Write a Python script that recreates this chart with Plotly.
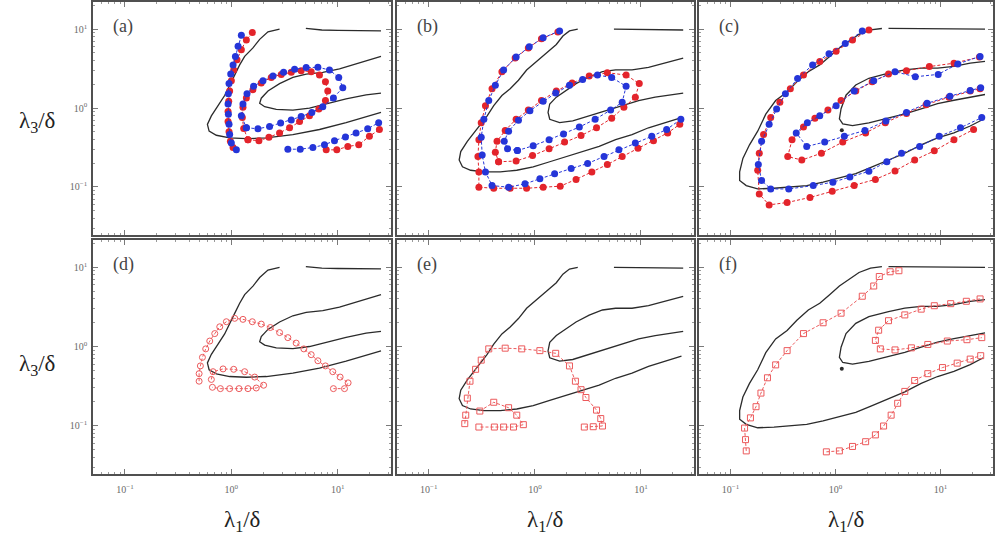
import numpy as np
import plotly.graph_objects as go
from plotly.subplots import make_subplots

# All coordinates are log10(lambda1/delta) and log10(lambda3/delta).

# ---- black reference contours, shared by each column (a/d, b/e, c/f) ----
c1_outer_l1 = [0.453, 0.344, 0.266, 0.203, 0.125, 0.078, 0.031, -0.016, -0.063, -0.125, -0.188, -0.225, -0.209,
               -0.141, -0.016, 0.141, 0.328, 0.578, 0.828, 1.078, 1.266, 1.406]
c1_outer_l3 = [1.0, 0.966, 0.871, 0.763, 0.655, 0.547, 0.418, 0.289, 0.159, 0.030, -0.099, -0.207, -0.293,
               -0.345, -0.379, -0.388, -0.379, -0.336, -0.272, -0.185, -0.112, -0.056]
c1_top_l1 = [0.70, 0.85, 1.0, 1.2, 1.406]
c1_top_l3 = [1.01, 0.99, 0.985, 0.98, 0.98]
c1_inner_l1 = [1.406, 1.203, 1.016, 0.859, 0.703, 0.578, 0.453, 0.344, 0.281, 0.266, 0.313, 0.422, 0.578, 0.734,
               0.891, 1.078, 1.266, 1.406]
c1_inner_l3 = [0.655, 0.569, 0.496, 0.453, 0.431, 0.388, 0.310, 0.216, 0.125, 0.060, 0.017, -0.017, -0.026, 0.0,
               0.052, 0.116, 0.168, 0.190]

c2_outer_l1 = [0.404, 0.326, 0.264, 0.202, 0.109, 0.016, -0.078, -0.155, -0.233, -0.311, -0.388, -0.450, -0.512,
               -0.575, -0.637, -0.699, -0.714, -0.683, -0.606, -0.481, -0.326, -0.171, -0.016, 0.140, 0.295, 0.450,
               0.606, 0.761, 0.916, 1.071, 1.227, 1.382]
c2_outer_l3 = [1.0, 0.978, 0.914, 0.806, 0.698, 0.590, 0.483, 0.353, 0.246, 0.159, 0.030, -0.099, -0.207, -0.315,
               -0.422, -0.552, -0.659, -0.746, -0.789, -0.810, -0.810, -0.789, -0.746, -0.681, -0.616, -0.552,
               -0.487, -0.401, -0.336, -0.250, -0.185, -0.121]
c2_top_l1 = [0.745, 0.95, 1.15, 1.398]
c2_top_l3 = [1.0, 0.995, 0.99, 0.99]
c2_inner_l1 = [1.398, 1.227, 1.071, 0.916, 0.761, 0.637, 0.512, 0.388, 0.295, 0.202, 0.140, 0.124, 0.140, 0.233,
               0.357, 0.512, 0.668, 0.823, 0.978, 1.134, 1.289, 1.398]
c2_inner_l3 = [0.634, 0.569, 0.517, 0.483, 0.483, 0.461, 0.397, 0.310, 0.224, 0.138, 0.052, -0.056, -0.142, -0.185,
               -0.164, -0.099, -0.034, 0.030, 0.095, 0.138, 0.172, 0.190]

c3_outer_l1 = [0.442, 0.333, 0.224, 0.131, 0.037, -0.056, -0.150, -0.259, -0.368, -0.461, -0.570, -0.664, -0.741,
               -0.819, -0.882, -0.913, -0.913, -0.850, -0.741, -0.586, -0.430, -0.274, -0.118, 0.037, 0.193, 0.349,
               0.505, 0.660, 0.816, 0.972, 1.128, 1.283, 1.408]
c3_outer_l3 = [1.009, 0.991, 0.935, 0.849, 0.763, 0.655, 0.547, 0.461, 0.332, 0.203, 0.095, -0.078, -0.293, -0.466,
               -0.638, -0.810, -0.918, -0.983, -1.026, -1.017, -1.004, -0.983, -0.940, -0.888, -0.832, -0.746,
               -0.659, -0.573, -0.466, -0.379, -0.315, -0.228, -0.142]
c3_top_l1 = [0.505, 0.75, 1.0, 1.25, 1.424]
c3_top_l3 = [1.01, 1.005, 1.0, 1.0, 1.0]
c3_inner_l1 = [1.424, 1.283, 1.128, 0.972, 0.816, 0.660, 0.505, 0.318, 0.193, 0.100, 0.053, 0.037, 0.069, 0.162,
               0.318, 0.505, 0.660, 0.816, 0.972, 1.128, 1.283, 1.424]
c3_inner_l3 = [0.592, 0.571, 0.528, 0.506, 0.506, 0.485, 0.442, 0.378, 0.292, 0.163, -0.009, -0.137, -0.202, -0.223,
               -0.189, -0.129, -0.073, -0.009, 0.056, 0.099, 0.142, 0.172]
c3_dot_l1 = [0.06]
c3_dot_l3 = [-0.28]

# ---- panel (a) ----
a_red1_l1 = [0.197, 0.141, 0.094, 0.053, 0.022, 0.0, -0.016, -0.025, -0.031, -0.031, -0.022, -0.009, 0.016]
a_red1_l3 = [0.957, 0.862, 0.741, 0.612, 0.483, 0.345, 0.216, 0.086, -0.043, -0.172, -0.302, -0.422, -0.5]
a_blue1_l1 = [0.094, 0.063, 0.038, 0.016, -0.006, -0.022, -0.028, -0.031, -0.028, -0.022, -0.016, 0.0, 0.047]
a_blue1_l3 = [0.922, 0.784, 0.655, 0.547, 0.431, 0.310, 0.181, 0.052, -0.078, -0.207, -0.336, -0.444, -0.530]
a_red2_l1 = [0.156, 0.259, 0.353, 0.453, 0.547, 0.641, 0.734, 0.822, 0.884, 0.906, 0.884, 0.828, 0.750, 0.656,
             0.563, 0.469, 0.375, 0.281, 0.203, 0.141, 0.109, 0.103, 0.116, 0.156]
a_red2_l3 = [-0.401, -0.414, -0.371, -0.315, -0.250, -0.172, -0.099, -0.013, 0.095, 0.216, 0.332, 0.418, 0.461,
             0.474, 0.453, 0.427, 0.388, 0.319, 0.233, 0.129, 0.009, -0.121, -0.259, -0.401]
a_blue2_l1 = [0.141, 0.250, 0.359, 0.463, 0.563, 0.656, 0.756, 0.859, 0.959, 1.047, 1.009, 0.922, 0.813, 0.703,
              0.594, 0.491, 0.391, 0.297, 0.209, 0.147, 0.109, 0.094, 0.141]
a_blue2_l3 = [-0.250, -0.263, -0.233, -0.190, -0.151, -0.108, -0.056, 0.017, 0.129, 0.259, 0.388, 0.483, 0.517,
              0.513, 0.491, 0.453, 0.405, 0.345, 0.276, 0.181, 0.052, -0.099, -0.250]
a_red3_l1 = [0.891, 0.991, 1.094, 1.197, 1.297, 1.391]
a_red3_l3 = [-0.530, -0.530, -0.487, -0.466, -0.358, -0.272]
a_blue3_l1 = [0.531, 0.647, 0.766, 0.875, 0.969, 1.072, 1.172, 1.281, 1.384]
a_blue3_l3 = [-0.522, -0.522, -0.500, -0.466, -0.414, -0.366, -0.315, -0.263, -0.185]

# ---- panel (b) ----
b_red1_l1 = [0.217, 0.062, -0.062, -0.186, -0.311, -0.404, -0.466, -0.506, -0.528, -0.537, -0.528, -0.528, -0.388,
             -0.233, -0.078, 0.078, 0.239, 0.388, 0.537, 0.683, 0.823, 0.972, 1.118, 1.252, 1.366]
b_red1_l3 = [0.966, 0.879, 0.763, 0.634, 0.461, 0.246, 0.030, -0.185, -0.401, -0.616, -0.810, -1.004, -1.017,
             -1.017, -1.017, -1.004, -0.991, -0.905, -0.810, -0.716, -0.616, -0.509, -0.414, -0.315, -0.207]
b_blue1_l1 = [0.233, 0.078, -0.053, -0.177, -0.295, -0.373, -0.435, -0.481, -0.506, -0.497, -0.466, -0.404, -0.248,
              -0.093, 0.047, 0.186, 0.342, 0.497, 0.652, 0.792, 0.947, 1.102, 1.242, 1.376]
b_blue1_l3 = [0.978, 0.892, 0.776, 0.647, 0.483, 0.289, 0.095, -0.142, -0.371, -0.595, -0.810, -0.983, -1.004,
              -0.961, -0.897, -0.832, -0.767, -0.703, -0.616, -0.530, -0.444, -0.358, -0.272, -0.142]
b_red2_l1 = [-0.342, -0.177, -0.022, 0.134, 0.280, 0.435, 0.581, 0.724, 0.839, 0.947, 0.984, 0.860, 0.683, 0.512,
             0.351, 0.202, 0.062, -0.062, -0.177, -0.280, -0.357, -0.373, -0.342]
b_red2_l3 = [-0.681, -0.672, -0.603, -0.517, -0.431, -0.349, -0.250, -0.129, 0.009, 0.138, 0.310, 0.418, 0.448,
             0.405, 0.319, 0.216, 0.095, -0.026, -0.142, -0.284, -0.422, -0.560, -0.681]
b_blue2_l1 = [-0.165, -0.016, 0.134, 0.270, 0.419, 0.568, 0.714, 0.823, 0.860, 0.724, 0.590, 0.450, 0.326, 0.196,
              0.078, -0.047, -0.155, -0.248, -0.289, -0.258, -0.165]
b_blue2_l3 = [-0.539, -0.478, -0.401, -0.328, -0.241, -0.142, -0.026, 0.073, 0.276, 0.388, 0.418, 0.362, 0.289,
              0.190, 0.086, -0.034, -0.155, -0.293, -0.422, -0.517, -0.539]

# ---- panel (c) ----
c_red1_l1 = [0.318, 0.162, 0.006, -0.150, -0.305, -0.430, -0.530, -0.617, -0.685, -0.726, -0.741, -0.726, -0.632,
             -0.461, -0.243, -0.031, 0.178, 0.380, 0.567, 0.754, 0.941, 1.128, 1.315]
c_red1_l3 = [0.991, 0.862, 0.720, 0.591, 0.418, 0.246, 0.073, -0.121, -0.336, -0.573, -0.789, -1.091, -1.228,
             -1.198, -1.134, -1.056, -0.983, -0.905, -0.797, -0.659, -0.543, -0.401, -0.272]
c_blue1_l1 = [0.255, 0.093, -0.062, -0.218, -0.361, -0.477, -0.561, -0.632, -0.704, -0.735, -0.704, -0.617, -0.445,
              -0.212, -0.025, 0.137, 0.318, 0.489, 0.629, 0.801, 0.988, 1.190, 1.393]
c_blue1_l3 = [0.978, 0.819, 0.690, 0.547, 0.375, 0.181, -0.013, -0.207, -0.422, -0.716, -0.918, -1.026, -1.026,
              -0.983, -0.940, -0.875, -0.802, -0.681, -0.573, -0.487, -0.358, -0.250, -0.121]
c_red2_l1 = [1.371, 1.128, 0.894, 0.676, 0.505, 0.349, 0.193, 0.053, -0.072, -0.196, -0.305, -0.414, -0.455, -0.321,
             -0.134, 0.069, 0.287, 0.474, 0.676, 0.863, 1.081, 1.283, 1.377]
c_red2_l3 = [0.647, 0.569, 0.526, 0.474, 0.431, 0.332, 0.216, 0.095, -0.026, -0.129, -0.241, -0.401, -0.616, -0.659,
             -0.573, -0.431, -0.315, -0.185, -0.069, 0.043, 0.138, 0.216, 0.246]
c_blue2_l1 = [1.377, 1.165, 0.978, 0.760, 0.567, 0.364, 0.178, 0.006, -0.150, -0.268, -0.374, -0.274, -0.103, 0.084,
              0.280, 0.480, 0.676, 0.872, 1.090, 1.283, 1.383]
c_blue2_l3 = [0.655, 0.560, 0.427, 0.397, 0.461, 0.345, 0.216, 0.030, -0.099, -0.185, -0.315, -0.487, -0.431,
              -0.358, -0.284, -0.164, -0.056, 0.060, 0.151, 0.224, 0.259]

# ---- panel (d) ----
d_1_l1 = [-0.303, -0.303, -0.291, -0.272, -0.241, -0.203, -0.156, -0.109, -0.047, 0.031, 0.109, 0.197, 0.281, 0.366,
          0.453, 0.531, 0.609, 0.681, 0.750, 0.813, 0.884, 0.953, 1.022, 1.097, 1.063, 0.959]
d_1_l3 = [-0.438, -0.343, -0.245, -0.137, -0.030, 0.069, 0.163, 0.249, 0.313, 0.356, 0.343, 0.313, 0.283, 0.240,
          0.176, 0.112, 0.043, -0.030, -0.103, -0.180, -0.245, -0.318, -0.386, -0.459, -0.532, -0.532]
d_2_l1 = [-0.188, -0.172, -0.078, 0.022, 0.125, 0.219, 0.303, 0.234, 0.156, 0.072, -0.016, -0.103, -0.178]
d_2_l3 = [-0.416, -0.318, -0.283, -0.288, -0.318, -0.386, -0.489, -0.524, -0.532, -0.532, -0.532, -0.532, -0.515]

# ---- panel (e) ----
e_1_l1 = [-0.661, -0.652, -0.637, -0.612, -0.559, -0.506, -0.435, -0.280, -0.124, 0.047, 0.196, 0.326, 0.382, 0.435,
          0.481, 0.581, 0.621, 0.637, 0.550, 0.466]
e_1_l3 = [-0.974, -0.867, -0.652, -0.438, -0.288, -0.172, -0.030, -0.021, -0.030, -0.052, -0.086, -0.245, -0.438,
          -0.545, -0.644, -0.803, -0.910, -1.004, -1.013, -1.017]
e_2_l1 = [-0.519, -0.388, -0.248, -0.171, -0.109, -0.202, -0.295, -0.382, -0.528]
e_2_l3 = [-0.815, -0.704, -0.773, -0.867, -0.987, -1.017, -1.017, -1.017, -1.017]

# ---- panel (f) ----
f_1_l1 = [-0.850, -0.857, -0.866, -0.810, -0.757, -0.710, -0.648, -0.570, -0.461, -0.305, -0.118, 0.053, 0.255,
          0.364, 0.417, 0.520, 0.604]
f_1_l3 = [-1.318, -1.176, -1.030, -0.901, -0.760, -0.588, -0.395, -0.232, -0.052, 0.163, 0.300, 0.421, 0.635,
          0.764, 0.884, 0.944, 0.957]
f_2_l1 = [1.377, 1.246, 1.097, 0.941, 0.816, 0.660, 0.505, 0.411, 0.380, 0.427, 0.567, 0.723, 0.879, 1.065, 1.252,
          1.393]
f_2_l3 = [0.601, 0.571, 0.541, 0.515, 0.472, 0.399, 0.326, 0.206, 0.077, -0.030, -0.043, -0.017, 0.026, 0.069,
          0.086, 0.112]
f_3_l1 = [-0.087, 0.037, 0.162, 0.287, 0.380, 0.458, 0.530, 0.592, 0.660, 0.754, 0.879, 1.019, 1.159, 1.283, 1.383]
f_3_l3 = [-1.330, -1.318, -1.262, -1.202, -1.116, -1.004, -0.867, -0.717, -0.567, -0.429, -0.343, -0.266, -0.210,
          -0.159, -0.116]

# axis tick labels
tick_vals = [0.1, 1, 10]
tick_text = ["10<sup>\u22121</sup>", "10<sup>0</sup>", "10<sup>1</sup>"]
panel_tags = ["(a)", "(b)", "(c)", "(d)", "(e)", "(f)"]

SERIF = "Liberation Serif, DejaVu Serif, serif"
BLACK = "#2b2b2b"
RED = "#e3242b"
BLUE = "#2535d8"
PINK = "#ec5a5c"


def pw(v):
    return [10.0 ** t for t in v]


fig = make_subplots(rows=2, cols=3)

contours = {
    1: [(c1_outer_l1, c1_outer_l3), (c1_top_l1, c1_top_l3), (c1_inner_l1, c1_inner_l3)],
    2: [(c2_outer_l1, c2_outer_l3), (c2_top_l1, c2_top_l3), (c2_inner_l1, c2_inner_l3)],
    3: [(c3_outer_l1, c3_outer_l3), (c3_top_l1, c3_top_l3), (c3_inner_l1, c3_inner_l3)],
}

for row in (1, 2):
    for col in (1, 2, 3):
        for lx, ly in contours[col]:
            fig.add_trace(go.Scatter(x=pw(lx), y=pw(ly), mode="lines",
                                     line=dict(color=BLACK, width=1.3), hoverinfo="skip"),
                          row=row, col=col)
        if col == 3:
            fig.add_trace(go.Scatter(x=pw(c3_dot_l1), y=pw(c3_dot_l3), mode="markers",
                                     marker=dict(color=BLACK, size=4)), row=row, col=col)


def filled(lx, ly, color, row, col):
    fig.add_trace(go.Scatter(x=pw(lx), y=pw(ly), mode="lines+markers",
                             line=dict(color=color, width=1, dash="3px,2px"),
                             marker=dict(symbol="circle", size=7, color=color,
                                         line=dict(color=color, width=0))),
                  row=row, col=col)


def hollow(lx, ly, symbol, row, col):
    fig.add_trace(go.Scatter(x=pw(lx), y=pw(ly), mode="lines+markers",
                             line=dict(color=PINK, width=1, dash="3px,2px"),
                             marker=dict(symbol=symbol, size=6, color=PINK,
                                         line=dict(color=PINK, width=1))),
                  row=row, col=col)


# top row: two model predictions (red, blue)
for lx, ly in [(a_red1_l1, a_red1_l3), (a_red2_l1, a_red2_l3), (a_red3_l1, a_red3_l3)]:
    filled(lx, ly, RED, 1, 1)
for lx, ly in [(a_blue1_l1, a_blue1_l3), (a_blue2_l1, a_blue2_l3), (a_blue3_l1, a_blue3_l3)]:
    filled(lx, ly, BLUE, 1, 1)
for lx, ly in [(b_red1_l1, b_red1_l3), (b_red2_l1, b_red2_l3)]:
    filled(lx, ly, RED, 1, 2)
for lx, ly in [(b_blue1_l1, b_blue1_l3), (b_blue2_l1, b_blue2_l3)]:
    filled(lx, ly, BLUE, 1, 2)
for lx, ly in [(c_red1_l1, c_red1_l3), (c_red2_l1, c_red2_l3)]:
    filled(lx, ly, RED, 1, 3)
for lx, ly in [(c_blue1_l1, c_blue1_l3), (c_blue2_l1, c_blue2_l3)]:
    filled(lx, ly, BLUE, 1, 3)

# bottom row: hollow-marker curves
for lx, ly in [(d_1_l1, d_1_l3), (d_2_l1, d_2_l3)]:
    hollow(lx, ly, "circle-open", 2, 1)
for lx, ly in [(e_1_l1, e_1_l3), (e_2_l1, e_2_l3)]:
    hollow(lx, ly, "square-open", 2, 2)
for lx, ly in [(f_1_l1, f_1_l3), (f_2_l1, f_2_l3), (f_3_l1, f_3_l3)]:
    hollow(lx, ly, "square-open", 2, 3)

# layout of the 2x3 grid (pixel boxes converted to paper fractions)
W, H = 995, 545
col_px = [(93, 391), (397, 694), (699, 993)]
row_px = [(2, 235), (240, 474)]

minor_vals = [k * 10.0 ** e for e in range(-2, 2) for k in range(2, 10)]

axis_common = dict(
    type="log", showline=True, linecolor="#505050", linewidth=1.5, mirror="allticks",
    ticks="inside", ticklen=5, tickwidth=1, tickcolor="#7a7a7a",
    showgrid=False, zeroline=False,
    tickmode="array", tickvals=tick_vals, ticktext=tick_text,
    tickfont=dict(family=SERIF, size=10, color="#6a6a6a"),
    minor=dict(tickmode="array", tickvals=minor_vals, ticks="inside", ticklen=2.5,
               tickwidth=1, tickcolor="#9a9a9a", showgrid=False),
)

for r, (t, b) in enumerate(row_px, start=1):
    for c, (l, rr) in enumerate(col_px, start=1):
        fig.update_xaxes(axis_common, domain=[l / W, rr / W], range=[-1.3, 1.5],
                         showticklabels=(r == 2), ticklabelstandoff=5, row=r, col=c)
        fig.update_yaxes(axis_common, domain=[1 - b / H, 1 - t / H], range=[-1.61, 1.345],
                         showticklabels=(c == 1), ticklabelstandoff=2, row=r, col=c)

annotations = []
k = 0
for r in (1, 2):
    for c in (1, 2, 3):
        idx = (r - 1) * 3 + c
        sfx = "" if idx == 1 else str(idx)
        annotations.append(dict(text=panel_tags[k], xref=f"x{sfx} domain", yref=f"y{sfx} domain",
                                x=0.062, y=0.895, xanchor="left", yanchor="middle", showarrow=False,
                                font=dict(family=SERIF, size=18, color="#444")))
        k += 1

for yc in (122, 365):
    annotations.append(dict(text="\u03bb<sub>3</sub>/\u03b4", xref="paper", yref="paper",
                            x=37 / W, y=1 - yc / H, xanchor="center", yanchor="middle", showarrow=False,
                            font=dict(family=SERIF, size=23, color="#222")))
for xc in (242, 545, 846):
    annotations.append(dict(text="\u03bb<sub>1</sub>/\u03b4", xref="paper", yref="paper",
                            x=xc / W, y=1 - 521 / H, xanchor="center", yanchor="middle", showarrow=False,
                            font=dict(family=SERIF, size=23, color="#222")))

fig.update_layout(
    width=W, height=H, margin=dict(l=0, r=0, t=0, b=0),
    paper_bgcolor="white", plot_bgcolor="white", showlegend=False,
    annotations=annotations,
)

fig.write_html("out.html")
